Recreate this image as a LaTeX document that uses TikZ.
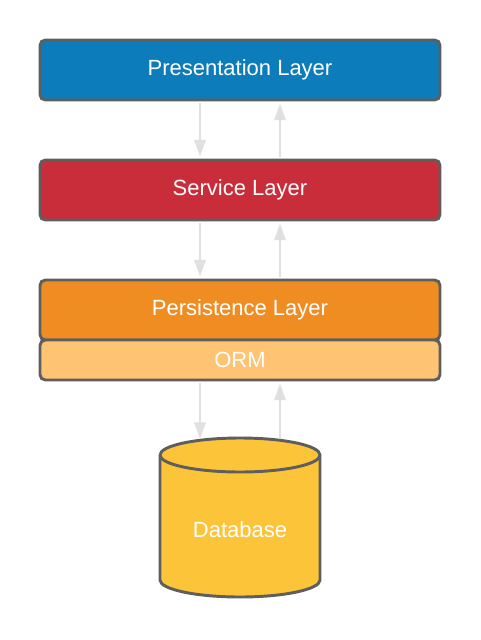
\documentclass[tikz,border=0pt]{standalone}
\usepackage{fontspec}
\setmainfont{Liberation Sans}
\usetikzlibrary{arrows.meta,calc}
\definecolor{presblue}{HTML}{0C7CBA}
\definecolor{servred}{HTML}{C92D39}
\definecolor{persorange}{HTML}{EF8D22}
\definecolor{ormorange}{HTML}{FFC374}
\definecolor{dbyellow}{HTML}{FCC438}
\definecolor{edgegray}{HTML}{5E5E5E}
\definecolor{flowgray}{HTML}{E0E0E0}
\tikzset{
  layer/.style={draw=edgegray, line width=2.2pt, rounded corners=4pt,
    minimum width=300pt, minimum height=45pt, text=white,
    font=\fontsize{16.5}{20}\selectfont},
  flow/.style={draw=flowgray, line width=1.5pt,
    -{Triangle[length=12.5pt,width=8.5pt]}, shorten <=1.2pt, shorten >=1.5pt}
}
\begin{document}
\begin{tikzpicture}[x=0.75pt,y=-0.75pt]
    \useasboundingbox (0,0) rectangle (480,640);
    % layers
    \node[layer, fill=presblue] (pres) at (240,70) {Presentation Layer};
    \node[layer, fill=servred] (serv) at (240,190) {Service Layer};
    \node[layer, fill=persorange] (pers) at (240,310) {Persistence Layer};
    \node[layer, fill=ormorange, minimum height=30pt] (orm) at (240,360) {ORM};
    % database cylinder
    \fill[dbyellow] (160,455) -- (160,580) arc[start angle=180, end angle=0, x radius=80, y radius=17]
      -- (320,455) arc[start angle=0, end angle=-180, x radius=80, y radius=17] -- cycle;
    \draw[edgegray, line width=2.2pt, line join=round] (160,455) -- (160,580)
      arc[start angle=180, end angle=0, x radius=80, y radius=17] -- (320,455)
      arc[start angle=0, end angle=-180, x radius=80, y radius=17];
    \draw[edgegray, line width=2.2pt] (160,455) arc[start angle=180, end angle=0, x radius=80, y radius=17];
    \node[text=white, font=\fontsize{16.5}{20}\selectfont] (db) at (240,530) {Database};
    \coordinate (dbin) at (200,441);
    \coordinate (dbout) at (280,441);
    % requests down, results up
    \draw[flow] ($(pres.south)+(-40,0)$) -- ($(serv.north)+(-40,0)$);
    \draw[flow] ($(serv.north)+(40,0)$) -- ($(pres.south)+(40,0)$);
    \draw[flow] ($(serv.south)+(-40,0)$) -- ($(pers.north)+(-40,0)$);
    \draw[flow] ($(pers.north)+(40,0)$) -- ($(serv.south)+(40,0)$);
    \draw[flow] ($(orm.south)+(-40,0)$) -- (dbin);
    \draw[flow] (dbout) -- ($(orm.south)+(40,0)$);
\end{tikzpicture}
\end{document}
